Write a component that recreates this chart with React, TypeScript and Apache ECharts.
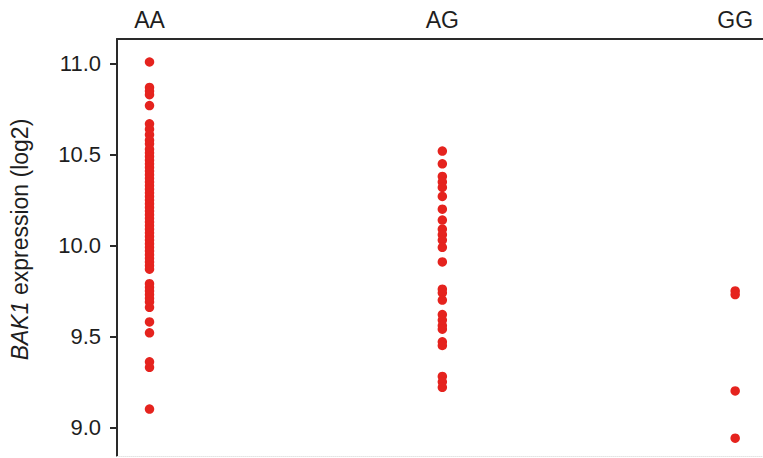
import React, { useEffect, useRef } from "react";
import * as echarts from "echarts";

const categories = ["AA", "AG", "GG"];
const yTicks = [9.0, 9.5, 10.0, 10.5, 11.0];

const aaValues = [
  11.01, 10.87, 10.85, 10.83, 10.77, 10.67, 10.64, 10.61, 10.58, 10.56, 10.53,
  10.51, 10.49, 10.47, 10.45, 10.43, 10.41, 10.39, 10.37, 10.35, 10.33, 10.31,
  10.29, 10.27, 10.25, 10.23, 10.21, 10.19, 10.17, 10.15, 10.13, 10.11, 10.09,
  10.07, 10.05, 10.03, 10.01, 9.99, 9.97, 9.95, 9.93, 9.91, 9.89, 9.87, 9.79,
  9.77, 9.75, 9.73, 9.71, 9.69, 9.66, 9.58, 9.52, 9.36, 9.33, 9.1,
];
const agValues = [
  10.52, 10.45, 10.38, 10.35, 10.32, 10.27, 10.2, 10.14, 10.09, 10.06, 10.03,
  9.99, 9.91, 9.76, 9.74, 9.7, 9.62, 9.59, 9.56, 9.54, 9.47, 9.45, 9.28, 9.25,
  9.22,
];
const ggValues = [9.75, 9.73, 9.2, 8.94];

const groups = [aaValues, agValues, ggValues];

export default function App() {
  const ref = useRef<HTMLDivElement>(null);
  useEffect(() => {
    if (!ref.current) return;
    const chart = echarts.init(ref.current, null, { renderer: "svg" });
    const font = "Liberation Sans, Arial, Helvetica, sans-serif";
    const axisColor = "#2a2a2a";
    chart.setOption({
      animation: false,
      backgroundColor: "#ffffff",
      grid: { left: 113, right: 0, top: 39, bottom: 2, containLabel: false },
      xAxis: [
        {
          type: "value",
          position: "top",
          min: -0.111,
          max: 2.095,
          axisLine: {
            show: true,
            onZero: false,
            lineStyle: { color: axisColor, width: 2 },
          },
          axisTick: { show: false },
          splitLine: { show: false },
          axisLabel: {
            customValues: [0, 1, 2],
            formatter: (v: number) => categories[Math.round(v)] ?? "",
            fontSize: 23,
            color: "#1e1e1e",
            fontFamily: font,
            margin: 8,
          },
        },
        {
          type: "value",
          position: "bottom",
          min: -0.111,
          max: 2.095,
          axisLine: {
            show: true,
            onZero: false,
            lineStyle: { color: "#e4e4e4", width: 1, type: "dotted" },
          },
          axisTick: { show: false },
          splitLine: { show: false },
          axisLabel: { show: false },
        },
      ],
      yAxis: {
        type: "value",
        min: 8.842,
        max: 11.1365,
        axisLine: {
          show: true,
          onZero: false,
          lineStyle: { color: axisColor, width: 2 },
        },
        axisTick: {
          show: true,
          customValues: yTicks,
          length: 7,
          lineStyle: { color: axisColor, width: 2 },
        },
        splitLine: { show: false },
        axisLabel: {
          customValues: yTicks,
          formatter: (v: number) => v.toFixed(1),
          fontSize: 22,
          color: "#1e1e1e",
          fontFamily: font,
          margin: 16,
        },
        name: "{i|BAK1} expression (log2)",
        nameLocation: "middle",
        nameGap: 86,
        nameTextStyle: {
          fontSize: 23,
          color: "#1e1e1e",
          fontFamily: font,
          padding: [0, 0, 0, 16],
          rich: {
            i: { fontStyle: "italic", fontSize: 23, color: "#1e1e1e", fontFamily: font },
          },
        },
      },
      series: groups.map((vals, gi) => ({
        type: "scatter",
        name: categories[gi],
        xAxisIndex: 0,
        symbol: "circle",
        symbolSize: 9.5,
        itemStyle: { color: "#e5231e", opacity: 1 },
        data: vals.map((v) => [gi, v]),
      })),
    });
    return () => chart.dispose();
  }, []);
  return (
    <div
      ref={ref}
      style={{ position: "absolute", left: 0, top: 0, width: 763, height: 458 }}
    />
  );
}
